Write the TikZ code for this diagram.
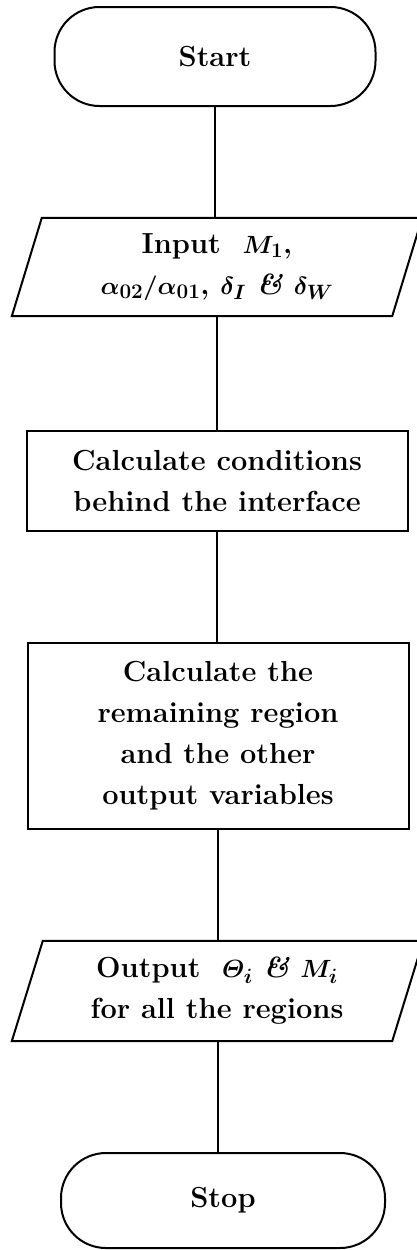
\documentclass[tikz,border=0pt]{standalone}
\usepackage{amsmath}
\usetikzlibrary{calc}
\begin{document}
\begin{tikzpicture}[x=1pt,y=-1pt]
\tikzset{
  lbl/.style={font=\fontsize{29}{41}\selectfont\bfseries\boldmath, align=center, inner sep=0pt},
  term/.style={lbl, draw, line width=2pt, rounded corners=45pt, minimum width=321pt, minimum height=99pt},
  procbox/.style={lbl, draw, line width=2pt, minimum width=381pt},
  iobox/.style={lbl, minimum width=380pt, minimum height=98pt},
  conn/.style={line width=2pt},
}
\useasboundingbox (0,0) rectangle (417,1250);
\node[term] (start) at (215,56.5) {Start};
\node[iobox] (inp) at (217,267) {Input\ \ $M_1$,\\ $\alpha_{02}/\alpha_{01}$, $\delta_I$ \textit{\&} $\delta_W$};
\draw[conn] ($(inp.south west)+(-15,0)$) -- ($(inp.south east)+(-15,0)$) -- ($(inp.north east)+(15,0)$) -- ($(inp.north west)+(15,0)$) -- cycle;
\node[procbox, minimum height=100pt] (c1) at (217,481) {Calculate conditions\\behind the interface};
\node[procbox, minimum height=186pt] (c2) at (218,736) {Calculate the\\remaining region\\and the other\\output variables};
\node[iobox, minimum height=100pt] (out) at (217,991) {Output\ \ $\varTheta_i$ \textit{\&} $M_i$\\for all the regions};
\draw[conn] ($(out.south west)+(-15,0)$) -- ($(out.south east)+(-15,0)$) -- ($(out.north east)+(16,0)$) -- ($(out.north west)+(16,0)$) -- cycle;
\node[term, minimum width=324pt, minimum height=95pt] (stop) at (223,1200.5) {Stop};
\draw[conn] (start.south) -- (start.south |- inp.north);
\draw[conn] (c1.north |- inp.south) -- (c1.north);
\draw[conn] (c1.south) -- (c1.south |- c2.north);
\draw[conn] (c2.south) -- (c2.south |- out.north);
\draw[conn] (c2.south |- out.south) -- (c2.south |- stop.north);
\end{tikzpicture}
\end{document}
